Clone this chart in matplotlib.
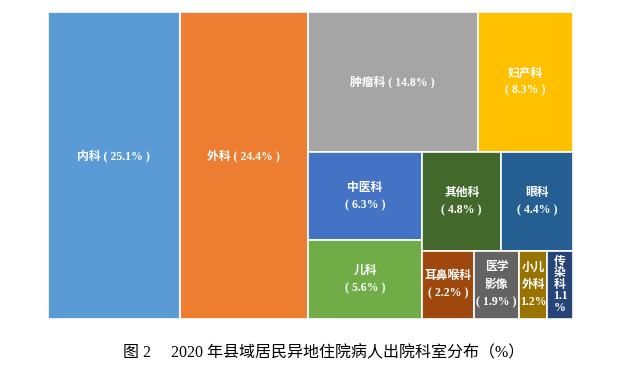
import matplotlib.pyplot as plt
from matplotlib.patches import Rectangle

names = ['内科', '外科', '肿瘤科', '妇产科', '中医科', '儿科',
         '其他科', '眼科', '耳鼻喉科', '医学影像', '小儿外科', '传染科']
values = [25.1, 24.4, 14.8, 8.3, 6.3, 5.6, 4.8, 4.4, 2.2, 1.9, 1.2, 1.1]
labels = ['内科 ( 25.1% )', '外科 ( 24.4% )', '肿瘤科 ( 14.8% )', '妇产科\n( 8.3% )',
          '中医科\n( 6.3% )', '儿科\n( 5.6% )', '其他科\n( 4.8% )', '眼科\n( 4.4% )',
          '耳鼻喉科\n( 2.2% )', '医学\n影像\n( 1.9% )', '小儿\n外科\n1.2%',
          '传\n染\n科\n1.1\n%']
colors = ['#5B9BD5', '#ED7D31', '#A5A5A5', '#FFC000', '#4472C4', '#70AD47',
          '#43682B', '#255E91', '#9E480E', '#636363', '#997300', '#264478']

# strips as excel laid them out: slice off the left or the top of what is left
strips = [('left', [0]), ('left', [1]), ('top', [2, 3]), ('left', [4, 5]),
          ('top', [6, 7]), ('top', [8, 9, 10, 11])]


def layout(vals, strips):
    x0, y0, x1, y1 = 0.0, 0.0, 1.0, 1.0   # y measured from top
    left = sum(vals)
    rects = {}
    for side, idx in strips:
        s = sum(vals[i] for i in idx)
        if side == 'left':
            w = (x1 - x0) * s / left
            yy = y0
            for i in idx:
                h = (y1 - y0) * vals[i] / s
                rects[i] = (x0, yy, w, h)
                yy += h
            x0 += w
        else:
            h = (y1 - y0) * s / left
            xx = x0
            for i in idx:
                w = (x1 - x0) * vals[i] / s
                rects[i] = (xx, y0, w, h)
                xx += w
            y0 += h
        left -= s
    return rects


fig = plt.figure(figsize=(6.33, 3.77), dpi=100)
ax = fig.add_axes([48 / 633, 58 / 377, 525 / 633, 307 / 377])
ax.set_xlim(0, 1)
ax.set_ylim(1, 0)
ax.axis('off')

lab_font = ['Liberation Serif', 'Noto Sans CJK SC']
rects = layout(values, strips)
for i in range(len(values)):
    x, y, w, h = rects[i]
    ax.add_patch(Rectangle((x, y), w, h, facecolor=colors[i],
                           edgecolor='white', linewidth=1.2))
    cy = y + h / 2
    if i < 2:
        cy -= 0.03
    ls = 0.95 if i == 11 else 1.6
    ax.text(x + w / 2, cy, labels[i], ha='center', va='center', color='white',
            fontsize=8.5, fontweight='bold', family=lab_font, linespacing=ls)

fig.text(324 / 633, 1 - 353 / 377, '图 2　 2020 年县域居民异地住院病人出院科室分布（%）',
         ha='center', va='center', fontsize=11.5, family=lab_font, color='black')

fig.savefig('out.png', dpi=100)
